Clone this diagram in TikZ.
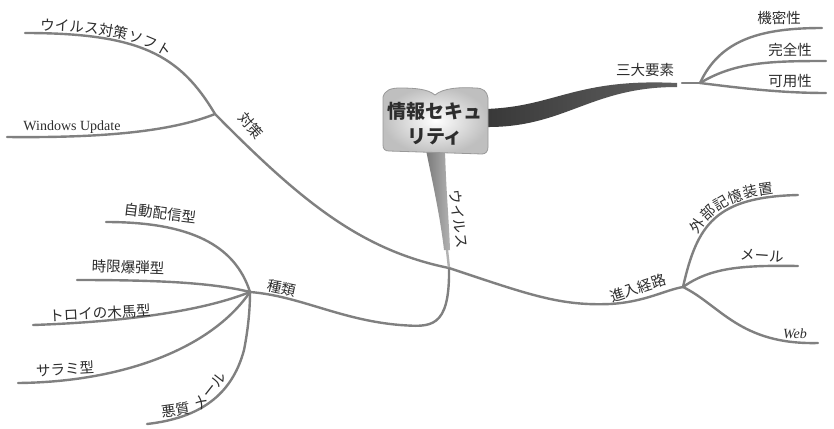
\documentclass[tikz,border=0pt]{standalone}
\usepackage{fontspec}
\setmainfont{Noto Sans CJK JP}
\newfontfamily\latinserif{Liberation Serif}
\usetikzlibrary{decorations.text}
\definecolor{linegray}{RGB}{128,128,128}
\definecolor{txtgray}{RGB}{45,45,45}
\begin{document}
\begin{tikzpicture}[x=1pt,y=-1pt,
  branch/.style={draw=linegray, line width=2.4pt, line cap=round},
  lbl/.style={font=\fontsize{14.5}{15}\selectfont, text=txtgray, inner sep=1pt},
  latlbl/.style={font=\latinserif\fontsize{14}{14}\selectfont, text=txtgray, inner sep=1pt}]
\useasboundingbox (0,0) rectangle (834,428);
\fill[white] (0,0) rectangle (834,428);

% coordinates
\coordinate (sanE) at (677,83);
\coordinate (sanS) at (682,83);
\coordinate (sanJ) at (700,83);
\coordinate (kimitsu) at (822,28);
\coordinate (kanzen) at (826,61);
\coordinate (kayou) at (826,93);
\coordinate (virE) at (447,250);
\coordinate (cross) at (449,268);
\coordinate (taisakuJ) at (215,114);
\coordinate (softE) at (25,33);
\coordinate (winE) at (7,137);
\coordinate (shinJ) at (683,287);
\coordinate (gaibuE) at (798,195);
\coordinate (mailE) at (798,266);
\coordinate (webE) at (818,343);
\coordinate (shuJ) at (250,292);
\coordinate (jidoE) at (106,222);
\coordinate (jigenE) at (77,280);
\coordinate (trojanE) at (33,325);
\coordinate (salamiE) at (18,383);
\coordinate (akuE) at (147,424);

% 三大要素 sub-branches
\draw[branch] (sanS) -- (sanJ);
\draw[branch] (sanJ) .. controls (720,40) and (760,28) .. (kimitsu);
\draw[branch] (sanJ) .. controls (735,62) and (770,61) .. (kanzen);
\draw[branch] (sanJ) .. controls (740,88) and (780,93) .. (kayou);

% 対策 / 進入経路 line
\draw[branch] (taisakuJ) .. controls (300,200) and (360,250) .. (cross)
   .. controls (530,295) and (560,306) .. (610,304)
   .. controls (645,302) and (665,290) .. (shinJ);
\draw[branch] (softE) .. controls (140,33) and (180,55) .. (taisakuJ);
\draw[branch] (winE) .. controls (100,138) and (170,132) .. (taisakuJ);

% 進入経路 sub-branches
\draw[branch] (shinJ) .. controls (697,225) and (715,197) .. (gaibuE);
\draw[branch] (shinJ) .. controls (710,268) and (740,265) .. (mailE);
\draw[branch] (shinJ) .. controls (720,305) and (740,345) .. (webE);

% virus stem and 種類
\draw[branch, draw=linegray!60] (virE) -- (cross);
\draw[branch] (cross) .. controls (450,330) and (430,327) .. (400,325)
   .. controls (340,320) and (300,296) .. (shuJ);
\draw[branch] (shuJ) .. controls (235,245) and (190,222) .. (jidoE);
\draw[branch] (jigenE) .. controls (150,280) and (210,282) .. (shuJ);
\draw[branch] (trojanE) .. controls (120,322) and (200,312) .. (shuJ);
\draw[branch] (salamiE) .. controls (120,382) and (210,350) .. (shuJ);
\draw[branch] (akuE) .. controls (200,418) and (232,395) .. (244,350)
   .. controls (248,330) and (250,310) .. (shuJ);

% thick branch to 三大要素
\shade[left color=black!78, right color=black!62]
  (485,109) .. controls (555,107) and (575,78) .. (sanE) -- (677,87)
  .. controls (590,87) and (565,128) .. (485,127) -- cycle;
% thick virus trunk
\shade[left color=black!52, right color=black!30]
  (426,150) -- (445,150) .. controls (446,190) and (449,220) .. (450,250)
  -- (444,250) .. controls (440,215) and (432,180) .. (426,150) -- cycle;

% central book-shaped box
\shade[inner color=white, outer color=black!25, draw=black!40, line width=0.8pt]
  (383,97) .. controls (385,90) and (391,88) .. (400,88)
  .. controls (415,88) and (428,89) .. (435,95)
  .. controls (443,88) and (460,87) .. (475,88)
  .. controls (483,88) and (487,91) .. (488,98)
  -- (488,147) .. controls (488,151) and (486,154) .. (482,154)
  -- (389,151) .. controls (385,151) and (383,149) .. (383,145) -- cycle;
\node[align=center, text=txtgray, font=\fontsize{19}{25}\selectfont\bfseries, inner sep=0pt]
  (root) at (435,124) {情報セキュ\\リティ};

% labels
\node[lbl] (sandai) at (645,70) {三大要素};
\node[lbl] (kimitsuL) at (779,18) {機密性};
\node[lbl] (kanzenL) at (790,50) {完全性};
\node[lbl] (kayouL) at (790,81) {可用性};
\node[lbl, rotate=-83] (virusL) at (459,219) {ウイルス};
\node[lbl, rotate=-48] (taisakuL) at (251,126) {対策};
\node[latlbl] (winL) at (72,127) {Windows Update};
\node[lbl, rotate=18] (shinL) at (638,288) {進入経路};
\node[lbl, rotate=-4] (mailL) at (762,256) {メール};
\node[latlbl, font=\latinserif\itshape\fontsize{14}{14}\selectfont] (webL) at (795,334) {Web};
\node[lbl, rotate=-12] (shuL) at (282,288) {種類};
\node[lbl, rotate=-7] (jidoL) at (160,213) {自動配信型};
\node[lbl, rotate=-2] (jigenL) at (128,267) {時限爆弾型};
\node[lbl, rotate=3] (trojanL) at (100,313) {トロイの木馬型};
\node[lbl, rotate=3] (salamiL) at (65,369) {サラミ型};
\node[lbl, rotate=8, inner sep=0pt] (akuL1) at (176,410) {悪質};
\node[lbl, rotate=52, inner sep=0pt] (akuL2) at (210,391) {メール};

% curved labels
\path[decorate, decoration={text along path, text color=txtgray, raise=3pt,
   text align={left indent=15pt},
   text={|\fontsize{14.5}{15}\selectfont|ウイルス対策ソフト}}]
  (softE) .. controls (140,33) and (180,55) .. (taisakuJ);
\path[decorate, decoration={text along path, text color=txtgray, raise=3pt,
   text align={left indent=54pt},
   text={|\fontsize{14.5}{15}\selectfont|外部記憶装置}}]
  (shinJ) .. controls (697,225) and (715,197) .. (gaibuE);
\end{tikzpicture}
\end{document}
